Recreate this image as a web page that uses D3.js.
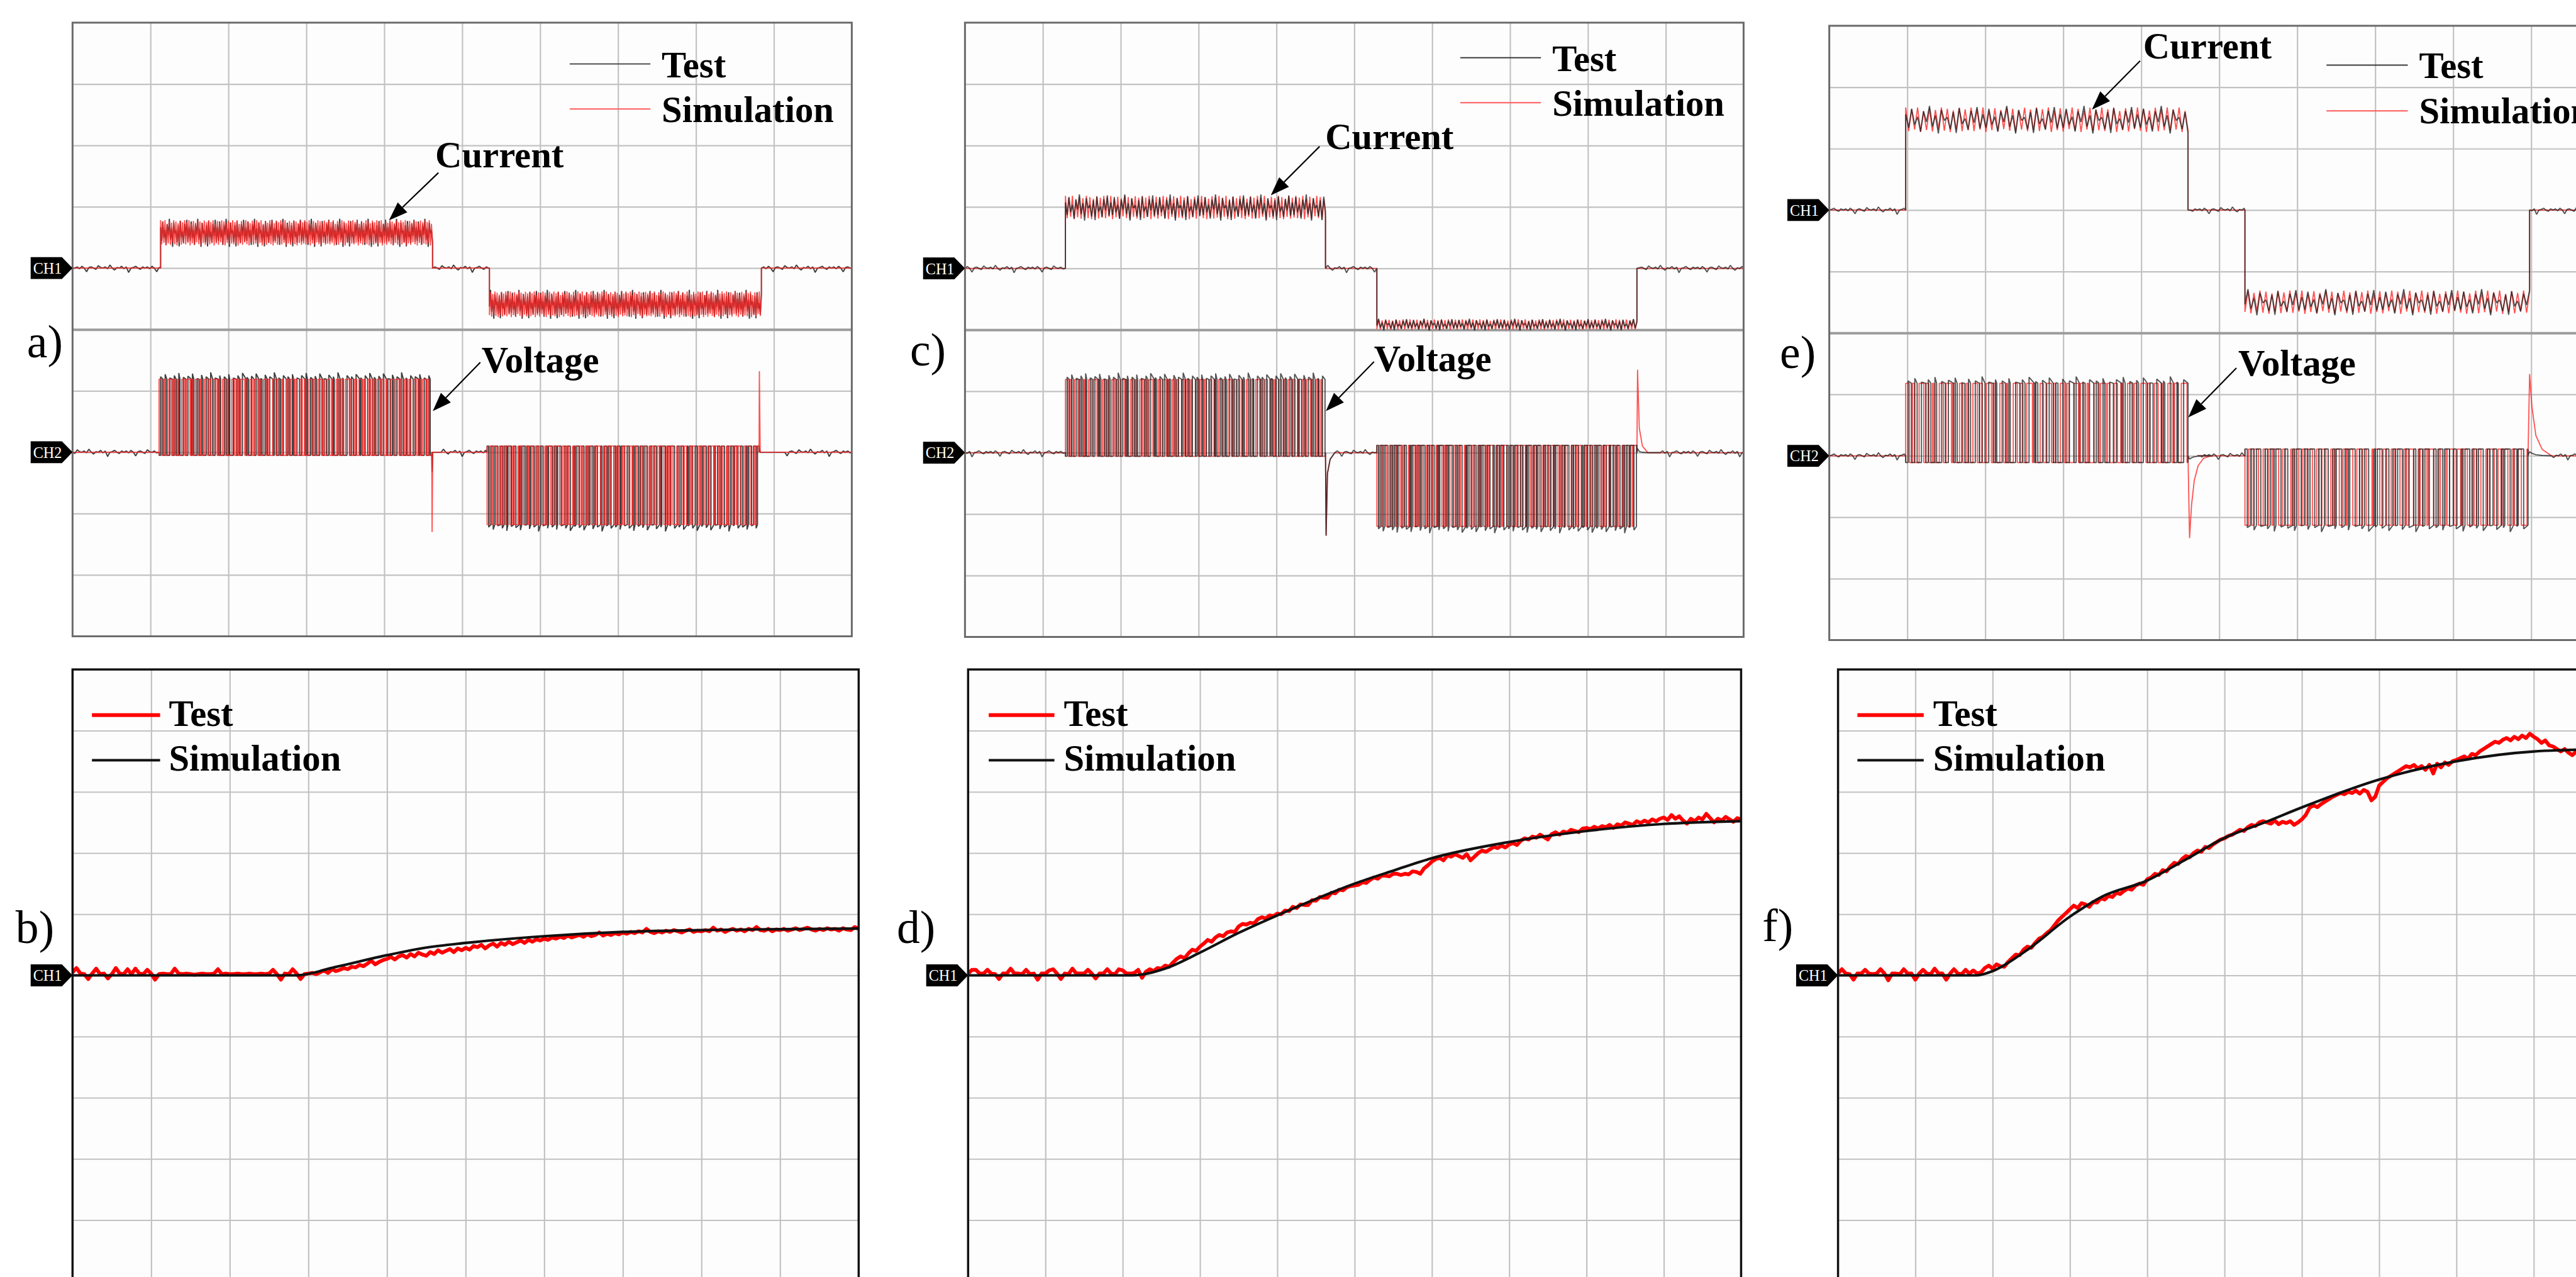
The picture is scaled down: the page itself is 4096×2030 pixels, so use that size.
<!DOCTYPE html>
<html>
<head>
<meta charset="utf-8">
<script src="https://cdn.jsdelivr.net/npm/d3@7"></script>
<style>
  html, body { margin: 0; padding: 0; background: #fff; overflow: hidden; }
  svg { display: block; }
  text { font-family: "Liberation Serif", "Times New Roman", serif; }
</style>
</head>
<body>
<svg id="chart"></svg>
<script>
// ---- data, all values in scope divisions (x: 0..10, y: relative to the channel marker) ----
var scopeNames = ['a)', 'c)', 'e)'];
var fitNames = ['b)', 'd)', 'f)'];
var legendNames = ['Test', 'Simulation'];
var gridDivisions = [1, 2, 3, 4, 5, 6, 7, 8, 9];

// current: rise, fall, start of negative step, end of negative step
var currentEdges = [[1.13, 4.62, 5.35, 8.84], [1.29, 4.63, 5.29, 8.63], [0.98, 4.60, 5.33, 8.98]];
var currentHigh = [[0.37, 0.78], [0.80, 1.18], [1.27, 1.67]];
var currentLow = [[-0.80, -0.38], [-1.00, -0.83], [-1.69, -1.31]];
var rippleCount = [250, 150, 96];

// voltage: start/end of positive pulse block, start/end of negative pulse block
var voltageEdges = [[1.11, 4.61, 5.32, 8.81], [1.29, 4.63, 5.29, 8.63], [0.98, 4.60, 5.33, 8.96]];
var voltagePos = [[-0.05, 1.19], [-0.06, 1.19], [-0.11, 1.18]];
var voltageNeg = [[0.10, -1.18], [0.12, -1.20], [0.11, -1.13]];
var pulseCount = [60, 56, 42];
var voltageSpikes = [[-1.30, 1.32], [-1.35, 1.35], [-1.34, 1.33]];
var testNegSpike = [0.25, 1.0, 0.04];

var negSpikeShape = [
  [[0, 0], [0.004, 1], [0.012, 0]],
  [[0, 0], [0.008, 1], [0.025, 0.25], [0.06, 0.08], [0.12, 0]],
  [[0, 0], [0.02, 1], [0.045, 0.6], [0.08, 0.3], [0.13, 0.12], [0.2, 0.03], [0.3, 0]]
];
var posSpikeShape = [
  [[0, 0], [0.004, 1], [0.015, 0]],
  [[0, 0], [0.008, 1], [0.03, 0.3], [0.07, 0.08], [0.14, 0]],
  [[0, 0], [0.02, 1], [0.05, 0.6], [0.1, 0.25], [0.18, 0.08], [0.3, 0]]
];

// ripple / switching patterns
var simRipple = [1, 0.04, 0.93, 0.1, 1, 0, 0.86, 0.08, 0.97, 0.02, 0.9, 0.12, 1, 0.05, 0.95, 0, 0.88, 0.1, 0.99, 0.03, 0.92, 0.07];
var testRipple = [0.72, 0.18, 0.95, 0.3, 0.62, 0.02, 0.84, 0.41, 1.06, 0.22, 0.68, -0.06, 0.9, 0.47, 0.6, 0.12, 0.81, -0.04, 0.97, 0.33, 0.55, 0.1, 0.86, 0.38, 1.02, 0.15];
var simDuty = [0.55, 0.3, 0.7, 0.45, 0.2, 0.6, 0.8, 0.35, 0.5, 0.25, 0.65, 0.4, 0.75, 0.3, 0.55, 0.15, 0.6, 0.45, 0.85, 0.35, 0.5, 0.7, 0.25];
var testDuty = [0.5, 0.35, 0.65, 0.4, 0.25, 0.55, 0.75, 0.3, 0.45, 0.3, 0.6, 0.45, 0.7, 0.2, 0.5, 0.2, 0.65, 0.4, 0.8, 0.3, 0.55, 0.6, 0.3, 0.45, 0.7];
var testOvershoot = [0.04, 0.08, 0.02, 0.06, 0.1, 0.03, 0.05, 0.09, 0.01, 0.07, 0.04, 0.11, 0.02, 0.06];
var testPhase = 0.35;
var baseNoise = [0, 0.02, -0.01, 0.03, 0, -0.06, 0.01, 0.02, 0, -0.02, 0.04, 0.01, 0, 0.02, -0.01, 0.05, 0, -0.03, 0.01, 0, 0.03, -0.01, 0.02, -0.07, 0, 0.01, 0.03, 0, -0.02, 0.02];
var noiseStep = 0.03;

// step responses (bottom row): simulation knots and test samples every 0.05 div
var simB = [[0, 0], [2.84, 0], [3.34, 0.135], [4, 0.33], [4.48, 0.45], [5, 0.53], [6, 0.64], [7, 0.71], [8, 0.74], [9, 0.755], [10, 0.765]];
var simD = [[0, 0], [2.13, 0], [2.56, 0.115], [2.99, 0.366], [3.5, 0.695], [4, 0.98], [4.51, 1.256], [5, 1.5], [5.52, 1.72], [6, 1.915], [7, 2.18], [8, 2.36], [9, 2.475], [10, 2.52]];
var simF = [[0, 0], [1.79, 0], [2, 0.07], [2.43, 0.4], [3, 0.96], [3.42, 1.29], [4, 1.55], [4.48, 1.88], [4.99, 2.24], [5.54, 2.51], [5.99, 2.74], [7, 3.2], [8, 3.5], [9, 3.66], [10, 3.7]];
var testStep = 0.05;
var testB = [
  0.05, 0.12, 0.03, 0.02, -0.06, 0.03, 0.11, 0.02, 0.03, -0.05,
  0.02, 0.12, 0.03, 0.02, 0.10, 0.02, 0.11, 0.03, 0.02, 0.09,
  0.03, -0.07, 0.02, 0.03, 0.02, 0.02, 0.11, 0.03, 0.02, 0.03,
  0.02, 0.01, 0.02, 0.03, 0.02, 0.02, 0.03, 0.10, 0.02, 0.03,
  0.02, 0.02, 0.03, 0.02, 0.02, 0.03, 0.02, 0.02, 0.03, 0.02,
  0.03, 0.09, 0.02, -0.07, 0.03, 0.02, 0.10, 0.03, -0.06, 0.02,
  0.03,
  0.04, 0.02, 0.05, 0.08, 0.04, 0.10, 0.07, 0.09, 0.12, 0.10,
  0.14, 0.13, 0.17, 0.15, 0.19, 0.24, 0.18, 0.22, 0.25, 0.27,
  0.30, 0.26, 0.31, 0.33, 0.29, 0.35, 0.31, 0.37, 0.34, 0.32,
  0.38, 0.35, 0.41, 0.37, 0.40, 0.43, 0.38, 0.44, 0.41, 0.45,
  0.42, 0.48, 0.46, 0.50, 0.44, 0.49, 0.52, 0.47, 0.53, 0.50,
  0.55, 0.51, 0.54, 0.57, 0.53, 0.58, 0.55, 0.59, 0.57, 0.60,
  0.58, 0.62, 0.60, 0.63, 0.61, 0.65, 0.62, 0.64, 0.66, 0.63,
  0.67, 0.64, 0.66, 0.70, 0.65, 0.68, 0.66, 0.69, 0.67, 0.70,
  0.68, 0.71, 0.69, 0.72, 0.70, 0.76, 0.71, 0.69, 0.72, 0.70,
  0.73, 0.71, 0.74, 0.72, 0.70, 0.73, 0.75, 0.71, 0.73, 0.72,
  0.74, 0.72, 0.78, 0.73, 0.75, 0.71, 0.74, 0.76, 0.73, 0.75,
  0.72, 0.76, 0.74, 0.79, 0.74, 0.73, 0.76, 0.72, 0.75, 0.74,
  0.76, 0.73, 0.75, 0.77, 0.74, 0.76, 0.78, 0.75, 0.73, 0.76,
  0.74, 0.77, 0.75, 0.76, 0.73, 0.77, 0.75, 0.74, 0.79, 0.76
];
var testD = [
  0.03, 0.09, 0.09, 0.03, 0.03, 0.09, 0.03, 0.02, -0.06, 0.03,
  0.03, 0.11, 0.03, 0.03, 0.02, 0.09, 0.02, 0.03, -0.07, 0.03,
  0.03, 0.08, 0.10, 0.03, -0.06, 0.03, 0.02, 0.11, 0.03, 0.03,
  0.03, 0.09, 0.03, -0.05, 0.03, 0.03, 0.10, 0.03, 0.02, 0.10,
  0.08, 0.03, 0.03,
  0.04, 0.09, -0.04, 0.06, 0.10, 0.07, 0.12, 0.11, 0.16, 0.14,
  0.21, 0.27, 0.31, 0.28, 0.36, 0.42, 0.40, 0.47,
  0.52, 0.58, 0.55, 0.62, 0.66, 0.64, 0.70, 0.72, 0.71, 0.80,
  0.84, 0.83, 0.86, 0.85, 0.92, 0.95, 0.93, 0.98, 0.97, 1.01,
  1.00, 1.06, 1.05, 1.12, 1.10, 1.16, 1.15, 1.15, 1.23, 1.22,
  1.28, 1.27, 1.27, 1.35, 1.34, 1.40, 1.39, 1.44, 1.46, 1.47,
  1.48, 1.52, 1.51, 1.56, 1.60, 1.58, 1.63, 1.63, 1.62, 1.66,
  1.66, 1.64, 1.66, 1.65, 1.70, 1.69, 1.66, 1.75, 1.80, 1.86,
  1.90, 1.92, 1.88, 1.96, 1.94, 1.98, 1.95, 1.92, 1.98, 1.88,
  1.94, 2.00, 2.04, 2.02, 2.06, 2.10, 2.08, 2.12, 2.09, 2.14,
  2.16, 2.13, 2.20, 2.24, 2.22, 2.27, 2.25, 2.30, 2.26, 2.22,
  2.31, 2.34, 2.30, 2.35, 2.33, 2.38, 2.36, 2.34, 2.40, 2.41,
  2.39, 2.43, 2.40, 2.44, 2.42, 2.46, 2.41, 2.47, 2.45, 2.50,
  2.48, 2.46, 2.52, 2.49, 2.53, 2.50, 2.55, 2.52, 2.56, 2.58,
  2.54, 2.62, 2.56, 2.60, 2.53, 2.48, 2.56, 2.52, 2.58, 2.55,
  2.64, 2.57, 2.50, 2.56, 2.53, 2.59, 2.55, 2.51, 2.57, 2.55
];
var testF = [
  0.03, 0.10, 0.03, 0.02, -0.07, 0.03, 0.03, 0.09, 0.03, 0.02,
  0.03, 0.10, 0.03, -0.08, 0.03, 0.03, 0.02, 0.10, 0.03, 0.03,
  -0.07, 0.03, 0.09, 0.03, 0.02, 0.11, 0.03, 0.03, -0.07, 0.03,
  0.10, 0.03, 0.02, 0.09, 0.03, 0.08, 0.03,
  0.05, 0.12, 0.16, 0.11, 0.18, 0.15, 0.14, 0.22, 0.28, 0.34,
  0.33, 0.42, 0.47, 0.45, 0.53, 0.60, 0.63, 0.69, 0.74, 0.82,
  0.90, 0.96, 1.02, 1.08,
  1.14, 1.10, 1.18, 1.16, 1.12, 1.20, 1.19, 1.26, 1.24, 1.30,
  1.28, 1.35, 1.33, 1.38, 1.42, 1.40, 1.47, 1.50, 1.48, 1.57,
  1.60, 1.66, 1.64, 1.72, 1.70, 1.78, 1.84, 1.82, 1.90, 1.95,
  1.93, 2.00, 2.04, 2.02, 2.10, 2.08, 2.14, 2.18, 2.22, 2.24,
  2.28, 2.30, 2.34, 2.38, 2.36, 2.42, 2.46, 2.44, 2.50, 2.52,
  2.50, 2.48, 2.53, 2.47, 2.51, 2.49, 2.52, 2.46, 2.50, 2.55,
  2.62, 2.74, 2.78, 2.75, 2.80, 2.84, 2.88, 2.92, 2.95, 2.98,
  2.96, 3.00, 2.98, 3.02, 2.97, 3.03, 3.00, 2.86, 2.92, 3.10,
  3.16, 3.22, 3.26, 3.30, 3.34, 3.38, 3.42, 3.40, 3.44, 3.38,
  3.42, 3.36, 3.44, 3.30, 3.46, 3.40, 3.48, 3.44, 3.50, 3.52,
  3.55, 3.58, 3.54, 3.62, 3.60, 3.66, 3.70, 3.74, 3.78, 3.82,
  3.80, 3.85, 3.88, 3.84, 3.90, 3.86, 3.92, 3.88, 3.95, 3.90,
  3.86, 3.80, 3.84, 3.76, 3.74, 3.70, 3.66, 3.70, 3.64, 3.60,
  3.66, 3.62, 3.58, 3.64, 3.60, 3.62, 3.66, 3.60, 3.64, 3.62
];
var fitSim = [simB, simD, simF];
var fitTest = [testB, testD, testF];

// ---- layout (reference pixel coordinates) ----
var scopeFrames = [
  { x0: 116, x1: 1362, y0: 36, y1: 1017, ch1: 4, ch2: 7, testOnTop: false },
  { x0: 1543, x1: 2788, y0: 36, y1: 1018, ch1: 4, ch2: 7, testOnTop: true },
  { x0: 2925, x1: 4172, y0: 41, y1: 1023, ch1: 3, ch2: 7, testOnTop: true }
];
var scopeNotes = [
  { lx: [911, 1040], ly: [102, 174], tx: 1058, ty: [123, 195],
    cur: { x: 696, y: 267, from: [701, 276], to: [622, 352] },
    vol: { x: 770, y: 595, from: [768, 579], to: [692, 657] }, label: [43, 571] },
  { lx: [2335, 2464], ly: [92, 164], tx: 2482, ty: [113, 185],
    cur: { x: 2119, y: 238, from: [2110, 234], to: [2032, 312] },
    vol: { x: 2197, y: 593, from: [2197, 578], to: [2120, 657] }, label: [1455, 584] },
  { lx: [3720, 3850], ly: [104, 177], tx: 3868, ty: [125, 197],
    cur: { x: 3427, y: 93, from: [3422, 97], to: [3345, 175] },
    vol: { x: 3579, y: 600, from: [3576, 588], to: [3499, 667] }, label: [2846, 588] }
];
var fitFrames = [
  { x0: 116, x1: 1373, y0: 1070, y1: 2048, ch1: 5 },
  { x0: 1548, x1: 2784, y0: 1070, y1: 2048, ch1: 5 },
  { x0: 2939, x1: 4175, y0: 1070, y1: 2048, ch1: 5 }
];
var fitNotes = [
  { lx: [147, 256], ly: [1143, 1215], tx: 270, ty: [1160, 1232], label: [25, 1507] },
  { lx: [1581, 1686], ly: [1143, 1215], tx: 1701, ty: [1160, 1232], label: [1434, 1507] },
  { lx: [2970, 3076], ly: [1143, 1215], tx: 3091, ty: [1160, 1232], label: [2818, 1504] }
];

var W = 4119, H = 2041;
var svg = d3.select('#chart')
  .attr('width', 4096).attr('height', 2030)
  .attr('viewBox', '0 0 ' + W + ' ' + H);
svg.append('rect').attr('width', W).attr('height', H).attr('fill', '#fff');
var defs = svg.append('defs');

function frameScales(f) {
  return {
    x: d3.scaleLinear().domain([0, 10]).range([f.x0, f.x1]),
    y: d3.scaleLinear().domain([0, 10]).range([f.y0, f.y1])
  };
}

function drawGrid(g, f, s, divider) {
  g.append('rect').attr('x', f.x0).attr('y', f.y0)
    .attr('width', f.x1 - f.x0).attr('height', f.y1 - f.y0).attr('fill', '#fdfdfd');
  var gx = g.append('g').attr('transform', 'translate(0,' + f.y0 + ')')
    .call(d3.axisTop(s.x).tickValues(gridDivisions).tickSize(-(f.y1 - f.y0)).tickFormat(''));
  var gy = g.append('g').attr('transform', 'translate(' + f.x0 + ',0)')
    .call(d3.axisLeft(s.y).tickValues(gridDivisions).tickSize(-(f.x1 - f.x0)).tickFormat(''));
  [gx, gy].forEach(function(a) {
    a.select('.domain').remove();
    a.selectAll('.tick line').attr('stroke', '#c2c2c2').attr('stroke-width', 2.2);
  });
  if (divider) {
    gy.selectAll('.tick line').filter(function(d) { return d === 5; })
      .attr('stroke', '#9c9c9c').attr('stroke-width', 4);
  }
}

function clipFor(id, f) {
  defs.append('clipPath').attr('id', id).append('rect')
    .attr('x', f.x0).attr('y', f.y0).attr('width', f.x1 - f.x0).attr('height', f.y1 - f.y0);
  return 'url(#' + id + ')';
}

function chTag(g, x0, y, label) {
  g.append('path')
    .attr('d', 'M' + (x0 - 67) + ',' + (y - 17.5) + 'H' + (x0 - 17) + 'L' + x0 + ',' + y +
      'L' + (x0 - 17) + ',' + (y + 17.5) + 'H' + (x0 - 67) + 'Z')
    .attr('fill', '#000');
  g.append('text').attr('x', x0 - 40).attr('y', y + 9).attr('text-anchor', 'middle')
    .attr('fill', '#fff').attr('font-size', 26)
    .attr('textLength', 46).attr('lengthAdjust', 'spacingAndGlyphs').text(label);
}

function arrow(g, from, to) {
  var dx = to[0] - from[0], dy = to[1] - from[1], L = Math.hypot(dx, dy);
  var ux = dx / L, uy = dy / L, hl = 30, hw = 11;
  var bx = to[0] - ux * hl, by = to[1] - uy * hl;
  g.append('line').attr('x1', from[0]).attr('y1', from[1]).attr('x2', bx).attr('y2', by)
    .attr('stroke', '#000').attr('stroke-width', 2.2);
  g.append('path')
    .attr('d', 'M' + to[0] + ',' + to[1] + 'L' + (bx - uy * hw) + ',' + (by + ux * hw) +
      'L' + (bx + uy * hw) + ',' + (by - ux * hw) + 'Z')
    .attr('fill', '#000');
}

function boldText(g, x, y, str) {
  g.append('text').attr('x', x).attr('y', y).attr('font-size', 59)
    .attr('font-weight', 'bold').attr('fill', '#000').text(str);
}

// ---- signal builders ----
var noiseIdx = 0;
function flat(pts, t0, t1, noisy) {
  pts.push([t0, 0]);
  if (noisy) {
    for (var t = t0 + noiseStep; t < t1; t += noiseStep) {
      pts.push([t, baseNoise[noiseIdx++ % baseNoise.length]]);
    }
  }
  pts.push([t1, 0]);
}
function band(pts, t0, t1, lvl, ripple, n, off) {
  for (var k = 0; k < n; k++) {
    var t = t0 + (t1 - t0) * k / (n - 1);
    var r = ripple[(k + off) % ripple.length];
    pts.push([t, lvl[0] + (lvl[1] - lvl[0]) * r]);
  }
}
function currentPoints(i, ripple, noisy) {
  var e = currentEdges[i], pts = [];
  flat(pts, 0, e[0], noisy);
  band(pts, e[0], e[1], currentHigh[i], ripple, rippleCount[i], 0);
  flat(pts, e[1], e[2], noisy);
  band(pts, e[2], e[3], currentLow[i], ripple, rippleCount[i], 7);
  flat(pts, e[3], 10, noisy);
  return pts;
}
function pulses(pts, t0, t1, lv, duty, n, phase, os) {
  var T = (t1 - t0) / n, sgn = lv[1] > lv[0] ? 1 : -1;
  pts.push([t0, 0], [t0, lv[0]]);
  for (var k = 0; k < n; k++) {
    var t = t0 + (k + phase) * T;
    if (t >= t1) break;
    var d = Math.min(duty[k % duty.length] * T, t1 - t);
    var o = os ? os[k % os.length] * sgn : 0;
    pts.push([t, lv[0]], [t, lv[1] + o], [t + d, lv[1]], [t + d, lv[0]]);
  }
  pts.push([t1, lv[0]], [t1, 0]);
}
function spike(pts, t0, amp, shape) {
  shape.forEach(function(p) { pts.push([t0 + p[0], amp * p[1]]); });
}
function voltagePoints(i, duty, phase, os, noisy, negAmp, posAmp) {
  var e = voltageEdges[i], pts = [];
  flat(pts, 0, e[0], noisy);
  pulses(pts, e[0], e[1], voltagePos[i], duty, pulseCount[i], phase, os);
  spike(pts, e[1], negAmp, negSpikeShape[i]);
  flat(pts, e[1] + 0.12, e[2], noisy);
  pulses(pts, e[2], e[3], voltageNeg[i], duty, pulseCount[i], phase, os);
  spike(pts, e[3], posAmp, posSpikeShape[i]);
  flat(pts, e[3] + 0.3, 10, noisy);
  return pts;
}

// ---- top row: oscilloscope captures ----
scopeFrames.forEach(function(f, i) {
  var s = frameScales(f), note = scopeNotes[i];
  var g = svg.append('g');
  drawGrid(g, f, s, true);

  var plot = g.append('g').attr('clip-path', clipFor('scope' + i, f));
  function chLine(row) {
    return d3.line().x(function(d) { return s.x(d[0]); })
      .y(function(d) { return s.y(row - d[1]); });
  }
  var l1 = chLine(f.ch1), l2 = chLine(f.ch2);
  var testStyle = function(p) {
    p.attr('fill', 'none').attr('stroke', '#1c1c1c').attr('stroke-width', 1.9)
      .attr('stroke-opacity', f.testOnTop ? 0.75 : 0.85).attr('stroke-linejoin', 'bevel');
  };
  var simStyle = function(p) {
    p.attr('fill', 'none').attr('stroke', '#ff2424').attr('stroke-width', 1.8)
      .attr('stroke-opacity', 0.8).attr('stroke-linejoin', 'bevel');
  };
  var sp = voltageSpikes[i];
  function drawTest() {
    plot.append('path').attr('d', l1(currentPoints(i, testRipple, true))).call(testStyle);
    plot.append('path').attr('d', l2(voltagePoints(i, testDuty, testPhase, testOvershoot, true,
      sp[0] * testNegSpike[i], sp[1] * 0.05))).call(testStyle);
  }
  function drawSim() {
    plot.append('path').attr('d', l1(currentPoints(i, simRipple, false))).call(simStyle);
    plot.append('path').attr('d', l2(voltagePoints(i, simDuty, 0, null, false, sp[0], sp[1]))).call(simStyle);
  }
  if (f.testOnTop) { drawSim(); drawTest(); } else { drawTest(); drawSim(); }

  g.append('rect').attr('x', f.x0).attr('y', f.y0)
    .attr('width', f.x1 - f.x0).attr('height', f.y1 - f.y0)
    .attr('fill', 'none').attr('stroke', '#6a6a6a').attr('stroke-width', 3);

  chTag(g, f.x0, s.y(f.ch1), 'CH1');
  chTag(g, f.x0, s.y(f.ch2), 'CH2');

  // legend
  g.append('line').attr('x1', note.lx[0]).attr('x2', note.lx[1])
    .attr('y1', note.ly[0]).attr('y2', note.ly[0]).attr('stroke', '#3a3a3a').attr('stroke-width', 2);
  g.append('line').attr('x1', note.lx[0]).attr('x2', note.lx[1])
    .attr('y1', note.ly[1]).attr('y2', note.ly[1]).attr('stroke', '#ff5a5a').attr('stroke-width', 2);
  boldText(g, note.tx, note.ty[0], legendNames[0]);
  boldText(g, note.tx, note.ty[1], legendNames[1]);

  boldText(g, note.cur.x, note.cur.y, 'Current');
  arrow(g, note.cur.from, note.cur.to);
  boldText(g, note.vol.x, note.vol.y, 'Voltage');
  arrow(g, note.vol.from, note.vol.to);

  g.append('text').attr('x', note.label[0]).attr('y', note.label[1])
    .attr('font-size', 74).attr('fill', '#000').text(scopeNames[i]);
});

// ---- bottom row: step responses ----
fitFrames.forEach(function(f, i) {
  var s = frameScales(f), note = fitNotes[i];
  var g = svg.append('g');
  drawGrid(g, f, s, false);

  var plot = g.append('g').attr('clip-path', clipFor('fit' + i, f));
  var ln = d3.line().x(function(d) { return s.x(d[0]); })
    .y(function(d) { return s.y(f.ch1 - d[1]); });

  plot.append('path')
    .attr('d', ln(fitTest[i].map(function(v, k) { return [k * testStep, v]; })))
    .attr('fill', 'none').attr('stroke', '#ff0000').attr('stroke-width', 6)
    .attr('stroke-linejoin', 'round');
  plot.append('path')
    .attr('d', ln.curve(d3.curveMonotoneX)(fitSim[i]))
    .attr('fill', 'none').attr('stroke', '#111').attr('stroke-width', 4.2);

  g.append('rect').attr('x', f.x0).attr('y', f.y0)
    .attr('width', f.x1 - f.x0).attr('height', f.y1 - f.y0)
    .attr('fill', 'none').attr('stroke', '#111').attr('stroke-width', 3.5);

  chTag(g, f.x0, s.y(f.ch1), 'CH1');

  g.append('line').attr('x1', note.lx[0]).attr('x2', note.lx[1])
    .attr('y1', note.ly[0]).attr('y2', note.ly[0]).attr('stroke', '#ff0000').attr('stroke-width', 6);
  g.append('line').attr('x1', note.lx[0]).attr('x2', note.lx[1])
    .attr('y1', note.ly[1]).attr('y2', note.ly[1]).attr('stroke', '#111').attr('stroke-width', 4);
  boldText(g, note.tx, note.ty[0], legendNames[0]);
  boldText(g, note.tx, note.ty[1], legendNames[1]);

  g.append('text').attr('x', note.label[0]).attr('y', note.label[1])
    .attr('font-size', 74).attr('fill', '#000').text(fitNames[i]);
});
</script>
</body>
</html>
